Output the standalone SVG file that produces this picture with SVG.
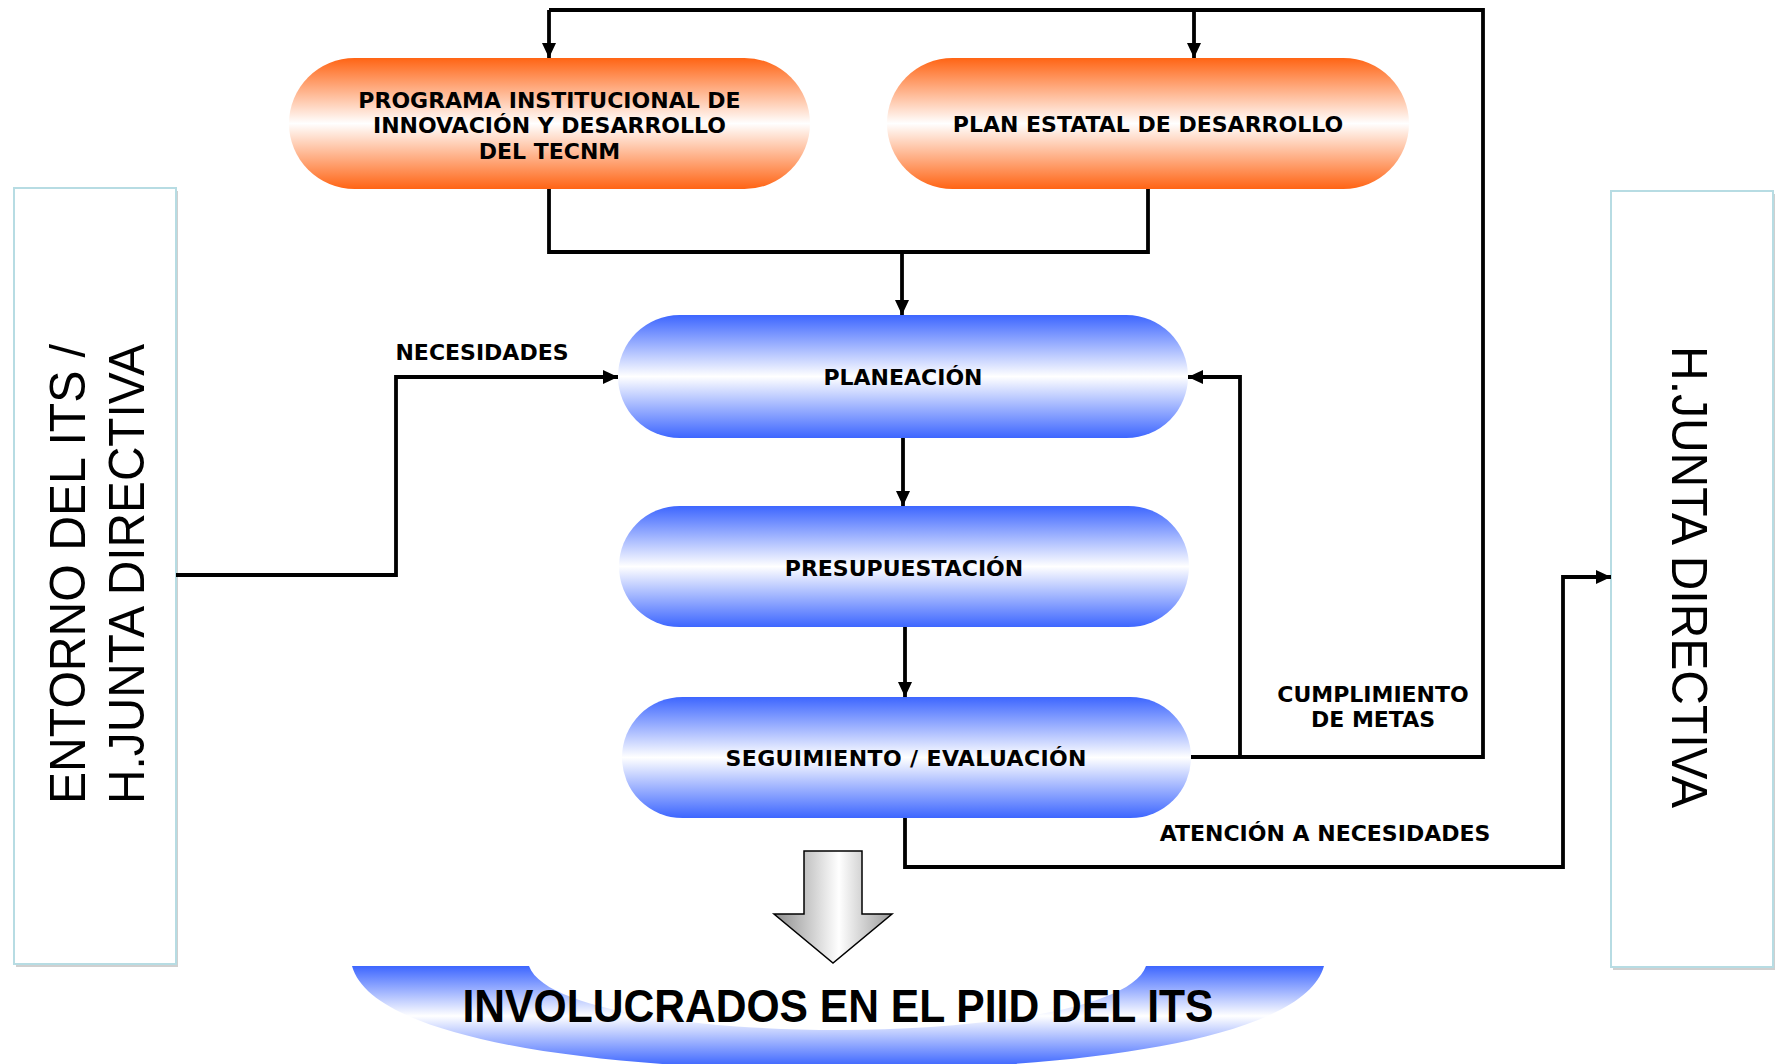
<svg xmlns="http://www.w3.org/2000/svg" width="1779" height="1064" viewBox="0 0 1779 1064">
<style>
.lbl{font-family:"DejaVu Sans",Verdana,sans-serif;font-weight:bold;font-size:22px;fill:#000;text-anchor:middle}
.side{font-family:"Liberation Sans",Arial,sans-serif;font-size:50px;fill:#000;text-anchor:middle}
.ln{fill:none;stroke:#000;stroke-width:3.8}
.box{fill:#fff;stroke:#b7dce3;stroke-width:2}
</style>
<defs>
<linearGradient id="gOr" x1="0" y1="0" x2="0" y2="1">
<stop offset="0" stop-color="#ff6414"/>
<stop offset="0.5" stop-color="#ffffff"/>
<stop offset="1" stop-color="#ff6414"/>
</linearGradient>
<linearGradient id="gBl" x1="0" y1="0" x2="0" y2="1">
<stop offset="0" stop-color="#3d66ff"/>
<stop offset="0.5" stop-color="#ffffff"/>
<stop offset="1" stop-color="#3d66ff"/>
</linearGradient>
<linearGradient id="gBan" gradientUnits="userSpaceOnUse" x1="0" y1="966" x2="0" y2="1066">
<stop offset="0" stop-color="#3d66ff"/>
<stop offset="0.5" stop-color="#ffffff"/>
<stop offset="1" stop-color="#3d66ff"/>
</linearGradient>
<linearGradient id="gGr" x1="0" y1="0" x2="1" y2="0">
<stop offset="0" stop-color="#8c8c8c"/>
<stop offset="0.55" stop-color="#ffffff"/>
<stop offset="1" stop-color="#9a9a9a"/>
</linearGradient>
<marker id="ah" markerUnits="userSpaceOnUse" markerWidth="16" markerHeight="16" viewBox="0 0 16 16" refX="15" refY="8" orient="auto">
<path d="M0,1 L15,8 L0,15 Z" fill="#000"/>
</marker>
</defs>

<g id="entorno">
<rect x="16" y="191" width="162" height="776" fill="#d0d0d0"/>
<rect x="14" y="188" width="162" height="776" class="box"/>
<text class="side" transform="translate(85,574) rotate(-90)" textLength="460" lengthAdjust="spacingAndGlyphs">ENTORNO DEL ITS /</text>
<text class="side" transform="translate(144,574) rotate(-90)" textLength="460" lengthAdjust="spacingAndGlyphs">H.JUNTA DIRECTIVA</text>
</g>

<g id="junta">
<rect x="1613" y="194" width="162" height="776" fill="#d0d0d0"/>
<rect x="1611" y="191" width="162" height="776" class="box"/>
<text class="side" transform="translate(1672,577) rotate(90)" textLength="462" lengthAdjust="spacingAndGlyphs">H.JUNTA DIRECTIVA</text>
</g>

<g id="programa">
<rect x="289" y="58" width="521" height="131" rx="65.5" fill="url(#gOr)"/>
<text class="lbl" x="549.5" y="107.5">PROGRAMA INSTITUCIONAL DE</text>
<text class="lbl" x="549.5" y="133">INNOVACIÓN Y DESARROLLO</text>
<text class="lbl" x="549.5" y="158.5">DEL TECNM</text>
</g>

<g id="plan">
<rect x="887" y="58" width="522" height="131" rx="65.5" fill="url(#gOr)"/>
<text class="lbl" x="1148" y="132">PLAN ESTATAL DE DESARROLLO</text>
</g>

<g id="planeacion">
<rect x="618" y="315" width="570" height="123" rx="61.5" fill="url(#gBl)"/>
<text class="lbl" x="903" y="385">PLANEACIÓN</text>
</g>

<g id="presupuestacion">
<rect x="619" y="506" width="570" height="121" rx="60.5" fill="url(#gBl)"/>
<text class="lbl" x="904" y="575.5">PRESUPUESTACIÓN</text>
</g>

<g id="seguimiento">
<rect x="622" y="697" width="569" height="121" rx="60.5" fill="url(#gBl)"/>
<text class="lbl" x="906" y="766" textLength="361">SEGUIMIENTO / EVALUACIÓN</text>
</g>

<g id="involucrados">
<path d="M352,966 C372,1040 600,1070 838,1070 C1076,1070 1304,1040 1324,966 L1146,966 C1131,1010 976,1030 838,1030 C700,1030 545,1010 529,966 Z" fill="url(#gBan)"/>
<text x="838" y="1022" font-family="'Liberation Sans',Arial,sans-serif" font-weight="bold" font-size="46" text-anchor="middle" textLength="751" lengthAdjust="spacingAndGlyphs">INVOLUCRADOS EN EL PIID DEL ITS</text>
</g>

<g id="flecha-bloque">
<path d="M804,851 L862,851 L862,914 L892,914 L833,963 L774,914 L804,914 Z" fill="url(#gGr)" stroke="#000" stroke-width="1.5"/>
</g>

<g id="connectors">
<polyline class="ln" points="549,189 549,252 1148,252 1148,189"/>
<polyline class="ln" points="902,252 902,315" marker-end="url(#ah)"/>
<polyline class="ln" points="549,10 549,58" marker-end="url(#ah)"/>
<polyline class="ln" points="549,10 1483,10 1483,757 1191,757"/>
<polyline class="ln" points="1194,10 1194,58" marker-end="url(#ah)"/>
<polyline class="ln" points="1240,757 1240,377 1188,377" marker-end="url(#ah)"/>
<polyline class="ln" points="903,438 903,506" marker-end="url(#ah)"/>
<polyline class="ln" points="905,627 905,697" marker-end="url(#ah)"/>
<polyline class="ln" points="176,575 396,575 396,377 618,377" marker-end="url(#ah)"/>
<polyline class="ln" points="905,818 905,867 1563,867 1563,577 1611,577" marker-end="url(#ah)"/>
<text class="lbl" x="482" y="360">NECESIDADES</text>
<text class="lbl" x="1373" y="702">CUMPLIMIENTO</text>
<text class="lbl" x="1373" y="727">DE METAS</text>
<text class="lbl" x="1325" y="841">ATENCIÓN A NECESIDADES</text>
</g>
</svg>
